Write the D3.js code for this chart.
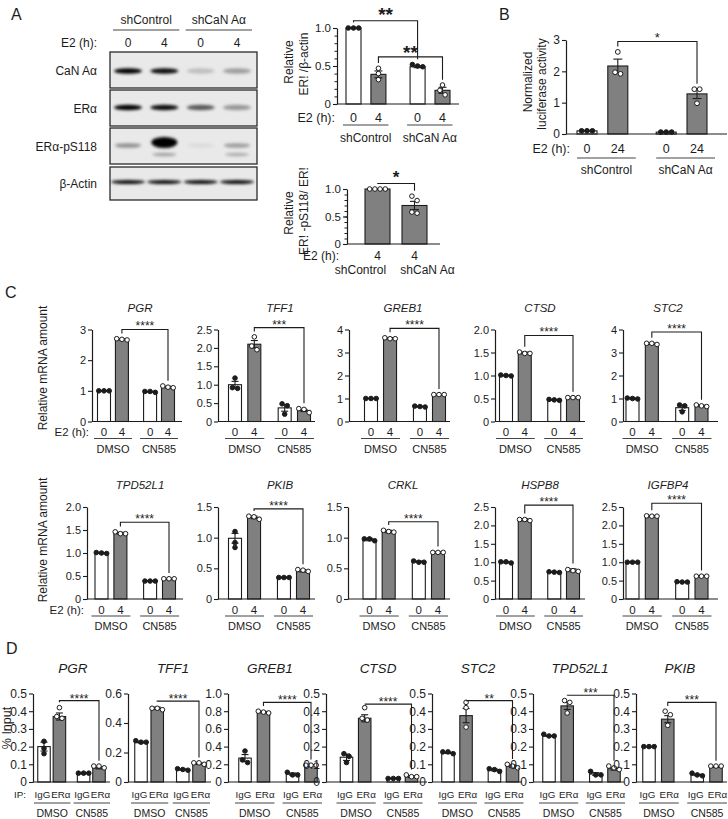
<!DOCTYPE html>
<html><head><meta charset="utf-8">
<script src="https://cdn.jsdelivr.net/npm/d3@7"></script>
<style>body{margin:0;background:#fff}svg{display:block}</style>
</head><body>
<script>
// ================= DATA =================
// Panel A – western blot
const blotGroups = ["shControl", "shCaN Aα"];
const blotLanes = ["0", "4", "0", "4"];
const blotRows = ["CaN Aα", "ERα", "ERα-pS118", "β-Actin"];
const blotIntensity = [
  [1.0, 0.95, 0.18, 0.32],
  [1.0, 0.95, 0.62, 0.35],
  [0.38, 1.0, 0.06, 0.32],
  [0.95, 0.95, 0.95, 0.95]
];
const blotSecondary = [0, 0.3, 0, 0.25]; // lower band, ERα-pS118 row

// Panel A – ERα / β-actin
const aErLabels = ["0", "4", "0", "4"];
const aErMeans = [1.0, 0.39, 0.49, 0.18];
const aErErrs = [0.005, 0.045, 0.012, 0.04];
const aErPoints = [[1, 1, 1], [0.47, 0.40, 0.32], [0.52, 0.49, 0.50], [0.25, 0.18, 0.12]];
// Panel A – ERα-pS118 / ERα
const aPsLabels = ["4", "4"];
const aPsMeans = [1.0, 0.70];
const aPsErrs = [0.003, 0.075];
const aPsPoints = [[1, 1, 1, 1], [0.87, 0.79, 0.58, 0.56]];

// Panel B – luciferase
const bLabels = ["0", "24", "0", "24"];
const bMeans = [0.10, 2.17, 0.06, 1.28];
const bErrs = [0.01, 0.22, 0.01, 0.15];
const bPoints = [[0.1, 0.1, 0.1], [1.92, 2.62, 1.97], [0.06, 0.06, 0.06], [1.43, 0.98, 1.43]];

// Panel C – qPCR
const cGenes = ["PGR", "TFF1", "GREB1", "CTSD", "STC2", "TPD52L1", "PKIB", "CRKL", "HSPB8", "IGFBP4"];
const cTimeLabels = ["0", "4", "0", "4"];
const cTreatments = ["DMSO", "CN585"];
const cMax = [3, 2.5, 4, 2, 4, 2, 1.5, 1.5, 2.5, 2.5];
const cTickStep = [1, 0.5, 1, 0.5, 1, 0.5, 0.5, 0.5, 0.5, 0.5];
const cMeans = [
  [1.0, 2.68, 0.97, 1.12],
  [1.0, 2.10, 0.37, 0.30],
  [1.0, 3.62, 0.65, 1.17],
  [1.0, 1.49, 0.47, 0.52],
  [1.0, 3.38, 0.60, 0.68],
  [1.0, 1.43, 0.39, 0.44],
  [0.99, 1.33, 0.35, 0.46],
  [0.97, 1.10, 0.61, 0.76],
  [1.0, 2.15, 0.73, 0.78],
  [1.0, 2.25, 0.46, 0.62]
];
const cErrs = [
  [0.01, 0.02, 0.01, 0.03],
  [0.09, 0.10, 0.09, 0.03],
  [0.01, 0.03, 0.02, 0.01],
  [0.01, 0.02, 0.01, 0.01],
  [0.02, 0.03, 0.12, 0.03],
  [0.01, 0.02, 0.01, 0.01],
  [0.08, 0.02, 0.01, 0.02],
  [0.02, 0.02, 0.01, 0.01],
  [0.02, 0.03, 0.01, 0.04],
  [0.01, 0.02, 0.01, 0.01]
];
const cPoints = [
  [[1, 1, 1], [2.66, 2.68, 2.70], [0.95, 0.98, 0.98], [1.16, 1.10, 1.12]],
  [[0.90, 1.18, 0.92], [2.30, 1.95, 2.05], [0.48, 0.20, 0.43], [0.33, 0.24, 0.35]],
  [[1, 1, 1], [3.60, 3.64, 3.60], [0.63, 0.67, 0.65], [1.17, 1.17, 1.17]],
  [[0.99, 1.0, 1.01], [1.48, 1.51, 1.48], [0.46, 0.48, 0.47], [0.52, 0.52, 0.52]],
  [[1, 1.02, 0.98], [3.35, 3.40, 3.40], [0.72, 0.42, 0.68], [0.65, 0.72, 0.68]],
  [[1, 1.01, 0.99], [1.42, 1.46, 1.42], [0.39, 0.39, 0.39], [0.44, 0.44, 0.44]],
  [[0.92, 1.10, 0.84], [1.35, 1.30, 1.34], [0.35, 0.35, 0.35], [0.48, 0.45, 0.47]],
  [[0.95, 0.98, 0.98], [1.09, 1.12, 1.10], [0.60, 0.62, 0.60], [0.76, 0.76, 0.76]],
  [[0.98, 1.01, 1.01], [2.13, 2.16, 2.16], [0.72, 0.74, 0.73], [0.80, 0.75, 0.77]],
  [[1, 1, 1], [2.25, 2.25, 2.26], [0.46, 0.47, 0.46], [0.62, 0.62, 0.62]]
];
const cSigLabels = ["****", "***", "****", "****", "****", "****", "****", "****", "****", "****"];
const cSigLevels = [3.0, 2.55, 4.05, 1.87, 3.89, 1.67, 1.47, 1.26, 2.55, 2.6];

// Panel D – ChIP
const dGenes = ["PGR", "TFF1", "GREB1", "CTSD", "STC2", "TPD52L1", "PKIB"];
const dIpLabels = ["IgG", "ERα", "IgG", "ERα"];
const dTreatments = ["DMSO", "CN585"];
const dMax = [0.5, 0.6, 1.0, 0.5, 0.5, 0.5, 0.5];
const dTickStep = [0.1, 0.2, 0.2, 0.1, 0.1, 0.1, 0.1];
const dMeans = [
  [0.20, 0.37, 0.05, 0.08],
  [0.27, 0.50, 0.085, 0.125],
  [0.27, 0.79, 0.09, 0.19],
  [0.14, 0.36, 0.02, 0.03],
  [0.165, 0.375, 0.068, 0.09],
  [0.26, 0.43, 0.045, 0.075],
  [0.20, 0.355, 0.04, 0.085]
];
const dErrs = [
  [0.025, 0.02, 0.003, 0.006],
  [0.006, 0.008, 0.004, 0.006],
  [0.04, 0.008, 0.012, 0.003],
  [0.018, 0.02, 0.002, 0.005],
  [0.004, 0.04, 0.005, 0.007],
  [0.003, 0.02, 0.008, 0.008],
  [0.002, 0.02, 0.004, 0.002]
];
const dPoints = [
  [[0.23, 0.19, 0.16], [0.42, 0.36, 0.37], [0.05, 0.05, 0.05], [0.09, 0.08, 0.09]],
  [[0.27, 0.28, 0.27], [0.50, 0.49, 0.50], [0.08, 0.09, 0.085], [0.13, 0.12, 0.13]],
  [[0.35, 0.22, 0.25], [0.78, 0.79, 0.80], [0.11, 0.08, 0.08], [0.19, 0.19, 0.19]],
  [[0.16, 0.11, 0.145], [0.42, 0.36, 0.35], [0.02, 0.02, 0.02], [0.03, 0.04, 0.03]],
  [[0.16, 0.17, 0.17], [0.45, 0.42, 0.31], [0.07, 0.075, 0.06], [0.08, 0.10, 0.09]],
  [[0.26, 0.27, 0.26], [0.45, 0.46, 0.39], [0.04, 0.06, 0.04], [0.07, 0.09, 0.08]],
  [[0.20, 0.20, 0.20], [0.40, 0.38, 0.32], [0.04, 0.05, 0.035], [0.09, 0.09, 0.09]]
];
const dSigLabels = ["****", "****", "****", "****", "**", "***", "***"];
const dSigLevels = [0.46, 0.548, 0.9, 0.44, 0.46, 0.49, 0.45];

// ================= LAYOUT / STYLE =================
const F = "Arial, 'Liberation Sans', Helvetica, sans-serif";
const INK = "#1c1c1c";
const GREY = "#808080";
const W = 728, H = 819;

const svg = d3.select("body").append("svg").attr("width", W).attr("height", H)
  .attr("font-family", F);

const defs = svg.append("defs");
defs.append("filter").attr("id", "blur").attr("x", "-30%").attr("y", "-100%").attr("width", "160%").attr("height", "300%")
  .append("feGaussianBlur").attr("stdDeviation", 1.4);

function txt(g, x, y, s, o = {}) {
  return g.append("text").attr("x", x).attr("y", y).text(s)
    .attr("font-size", o.fs || 11).attr("text-anchor", o.anchor || "middle")
    .attr("fill", INK).attr("font-style", o.italic ? "italic" : null)
    .attr("font-weight", o.bold ? "bold" : null)
    .attr("transform", o.rotate ? `rotate(-90,${x},${y})` : null);
}

function fmtDec(v) { return v === 0 ? "0" : d3.format(".1f")(v); }
function fmtInt(v) { return d3.format("d")(v); }

// symmetric scatter of replicate points (clusters of overlapping points are spread sideways)
function spread(vals, y, r) {
  const items = vals.map((v, i) => ({ i, py: y(v) })).sort((a, b) => a.py - b.py);
  const clusters = [];
  items.forEach(p => {
    const last = clusters[clusters.length - 1];
    if (last && Math.abs(p.py - last[last.length - 1].py) < 2 * r) last.push(p); else clusters.push([p]);
  });
  const out = [];
  const d = 2 * r + 0.6;
  clusters.forEach(cl => cl.forEach((p, j) => { out[p.i] = { dx: (j - (cl.length - 1) / 2) * d, py: p.py }; }));
  return out;
}

function barChart(c) {
  const g = svg.append("g");
  const y = d3.scaleLinear().domain([0, c.max]).range([c.yBot, c.yTop]);
  const x = d3.scaleLinear().domain([0, 1]).range([c.c0, c.c3]);
  const n = c.means.length;
  const slots = n === 2 ? [0, 1] : [0, 0.28, 0.72, 1];
  const xs = slots.map(s => x(s));
  const r = c.r || 2.3;

  // bars
  g.selectAll("rect.bar").data(c.means).join("rect").attr("class", "bar")
    .attr("x", (d, i) => xs[i] - c.barW / 2).attr("y", d => y(d))
    .attr("width", c.barW).attr("height", d => c.yBot - y(d))
    .attr("fill", (d, i) => c.grey[i] ? GREY : "#fff")
    .attr("stroke", INK).attr("stroke-width", 1.1);

  // error bars
  const cw = c.capW || 7;
  c.means.forEach((m, i) => {
    const e = c.errs[i];
    const eg = g.append("g").attr("stroke", INK).attr("stroke-width", 1.1);
    eg.append("line").attr("x1", xs[i]).attr("x2", xs[i]).attr("y1", y(Math.max(0, m - e))).attr("y2", y(m + e));
    eg.append("line").attr("x1", xs[i] - cw / 2).attr("x2", xs[i] + cw / 2).attr("y1", y(m + e)).attr("y2", y(m + e));
    eg.append("line").attr("x1", xs[i] - cw / 2).attr("x2", xs[i] + cw / 2).attr("y1", y(Math.max(0, m - e))).attr("y2", y(Math.max(0, m - e)));
  });

  // replicate points
  c.points.forEach((pts, i) => {
    const pos = spread(pts, y, r);
    g.selectAll(null).data(pos).join("circle")
      .attr("cx", p => xs[i] + p.dx).attr("cy", p => p.py).attr("r", r)
      .attr("fill", c.grey[i] ? "#fff" : INK).attr("stroke", INK).attr("stroke-width", 1);
  });

  // y axis
  const axis = d3.axisLeft(y).tickValues(c.ticks).tickFormat(c.fmt)
    .tickSizeInner(4).tickSizeOuter(0).tickPadding(2);
  const ag = g.append("g").attr("transform", `translate(${c.axisX},0)`).call(axis);
  ag.attr("font-family", F);
  ag.select(".domain").attr("stroke", INK).attr("stroke-width", 1.2);
  ag.selectAll(".tick line").attr("stroke", INK).attr("stroke-width", 1.1);
  ag.selectAll(".tick text").attr("fill", INK).attr("font-size", c.tickFs);
  if (c.minor) {
    const mg = g.append("g").attr("transform", `translate(${c.axisX},0)`)
      .call(d3.axisLeft(y).tickValues(c.minor).tickFormat("").tickSizeInner(2.5).tickSizeOuter(0));
    mg.select(".domain").remove();
    mg.selectAll(".tick line").attr("stroke", INK).attr("stroke-width", 1);
  }
  // x baseline
  g.append("line").attr("x1", c.axisX).attr("x2", c.end).attr("y1", c.yBot).attr("y2", c.yBot)
    .attr("stroke", INK).attr("stroke-width", 1.2);

  // significance brackets
  (c.sigs || []).forEach(s => {
    const top = i => y(Math.max(d3.max(c.points[i]), c.means[i] + c.errs[i])) - r - 3;
    const by = y(s.at);
    g.append("path")
      .attr("d", `M${xs[s.a]},${Math.max(top(s.a), by)}V${by}H${xs[s.b]}V${Math.max(top(s.b), by)}`)
      .attr("fill", "none").attr("stroke", INK).attr("stroke-width", 1.1);
    const cy = by - s.gap;
    txt(g, (xs[s.a] + xs[s.b]) / 2, cy + 0.58 * s.fs, s.label, { fs: s.fs, bold: s.bold });
  });

  // category labels
  c.xLabels.forEach((l, i) => txt(g, xs[i] + (c.xlShift ? c.xlShift[i] : 0), c.yBot + c.xlDy, l, { fs: c.xlFs }));
  if (c.prefix) txt(g, c.prefixX, c.yBot + c.xlDy, c.prefix, { fs: c.xlFs, anchor: "end" });
  c.groups.forEach((gl, k) => {
    const i0 = c.groupBars[k][0], i1 = c.groupBars[k][c.groupBars[k].length - 1];
    const x0 = xs[i0] - c.ulPadL, x1 = xs[i1] + c.ulPadR;
    if (c.underline) g.append("line").attr("x1", x0).attr("x2", x1)
      .attr("y1", c.yBot + c.ulDy).attr("y2", c.yBot + c.ulDy)
      .attr("stroke", "#444").attr("stroke-width", 1.2);
    txt(g, (x0 + x1) / 2 + (c.gShift ? c.gShift[k] : 0), c.yBot + c.gDy, gl, { fs: c.gFs });
  });
  if (c.title) txt(g, c.titleX, c.titleY, c.title, { fs: c.titleFs, italic: true });
  return { x, y, xs };
}

// ---------- panel letters ----------
txt(svg, 11, 20, "A", { fs: 16, anchor: "start" });
txt(svg, 499, 20, "B", { fs: 16, anchor: "start" });
txt(svg, 5, 298, "C", { fs: 16, anchor: "start" });
txt(svg, 6, 654, "D", { fs: 16, anchor: "start" });

// ---------- Panel A blot ----------
(function () {
  const g = svg.append("g");
  const boxes = [[52, 88], [90, 126], [128, 164], [167, 200]];
  const bx0 = 110, bx1 = 257;
  const lane = d3.scalePoint().domain(d3.range(4)).range([128, 237]);
  const bandY = [71, 107.5, 145.5, 182];
  const bandRy = [2.8, 2.8, 2.3, 2.0];
  const bandRx = [14, 14, 13, 17];
  boxes.forEach((b, r) => {
    g.append("rect").attr("x", bx0).attr("y", b[0]).attr("width", bx1 - bx0).attr("height", b[1] - b[0])
      .attr("fill", "#e9e9e9").attr("stroke", "#2a2a2a").attr("stroke-width", 1.3);
    const bands = g.append("g").attr("filter", "url(#blur)");
    blotIntensity[r].forEach((v, l) => {
      const big = r === 2 && v > 0.9;
      bands.append("ellipse").attr("cx", lane(l)).attr("cy", big ? bandY[r] - 3 : bandY[r])
        .attr("rx", bandRx[r]).attr("ry", big ? 5.5 : bandRy[r])
        .attr("fill", "#000").attr("opacity", v);
    });
    if (r === 2) blotSecondary.forEach((v, l) => {
      if (v > 0) bands.append("ellipse").attr("cx", lane(l)).attr("cy", bandY[r] + 9)
        .attr("rx", 12).attr("ry", 1.8).attr("fill", "#000").attr("opacity", v);
    });
    txt(g, 97, (b[0] + b[1]) / 2 + 4.5, blotRows[r], { fs: 12, anchor: "end" });
  });
  blotLanes.forEach((l, i) => txt(g, lane(i), 47, l, { fs: 12 }));
  txt(g, 97, 47, "E2 (h):", { fs: 12, anchor: "end" });
  [[0, 1], [2, 3]].forEach((pair, k) => {
    const x0 = lane(pair[0]) - 15, x1 = lane(pair[1]) + 15;
    g.append("line").attr("x1", x0).attr("x2", x1).attr("y1", 30).attr("y2", 30)
      .attr("stroke", "#444").attr("stroke-width", 1.2);
    txt(g, (x0 + x1) / 2, 24, blotGroups[k], { fs: 12 });
  });
})();

// ---------- Panel A quantification 1 ----------
barChart({
  axisX: 337, end: 459, c0: 353.5, c3: 442.5, yTop: 28, yBot: 104, max: 1.0,
  ticks: [0, 0.5, 1.0], fmt: fmtDec, minor: d3.range(1, 10).map(v => v / 10), tickFs: 11.5,
  means: aErMeans, errs: aErErrs, points: aErPoints, grey: [false, true, false, true], barW: 15, capW: 8,
  sigs: [
    { a: 0, b: 2, at: 1.095, label: "**", fs: 19, gap: 11, bold: true },
    { a: 1, b: 3, at: 0.62, label: "**", fs: 19, gap: 9, bold: true }
  ],
  xLabels: aErLabels, xlDy: 18, xlFs: 12.5, prefix: "E2 (h):", prefixX: 335,
  groups: blotGroups, groupBars: [[0, 1], [2, 3]], underline: true, ulDy: 21, ulPadL: 10.5, ulPadR: 10,
  gDy: 38, gFs: 12
});
txt(svg, 293, 62, "Relative", { fs: 12, rotate: true });
txt(svg, 308, 64, "ER! /β-actin", { fs: 12, rotate: true });

// ---------- Panel A quantification 2 ----------
barChart({
  axisX: 347, end: 440, c0: 377.5, c3: 414.5, yTop: 189, yBot: 244, max: 1.0,
  ticks: [0, 0.5, 1.0], fmt: fmtDec, minor: d3.range(1, 10).map(v => v / 10), tickFs: 11.5,
  means: aPsMeans, errs: aPsErrs, points: aPsPoints, grey: [true, true], barW: 25, capW: 9,
  sigs: [{ a: 0, b: 1, at: 1.1, label: "*", fs: 17, gap: 10, bold: true }],
  xLabels: aPsLabels, xlDy: 15.5, xlFs: 12, prefix: "E2 (h):", prefixX: 339,
  groups: blotGroups, groupBars: [[0], [1]], underline: false, ulPadL: 0, ulPadR: 0,
  gShift: [-17, 13], gDy: 30, gFs: 12
});
txt(svg, 293, 213, "Relative", { fs: 12, rotate: true });
txt(svg, 308, 211, "ER! -pS118/ ER!", { fs: 12, rotate: true });

// ---------- Panel B ----------
barChart({
  axisX: 566, end: 727, c0: 587, c3: 697, yTop: 40, yBot: 134, max: 3,
  ticks: [0, 1, 2, 3], fmt: fmtInt, tickFs: 12,
  means: bMeans, errs: bErrs, points: bPoints, grey: [false, true, false, true], barW: 20, capW: 9, r: 2.4,
  sigs: [{ a: 1, b: 3, at: 2.95, label: "*", fs: 13, gap: 7 }],
  xLabels: bLabels, xlDy: 19, xlFs: 12.5, prefix: "E2 (h):", prefixX: 570,
  groups: blotGroups, groupBars: [[0, 1], [2, 3]], underline: true, ulDy: 24, ulPadL: 10, ulPadR: 18,
  gDy: 40, gFs: 12
});
txt(svg, 532, 82, "Normalized", { fs: 12, rotate: true });
txt(svg, 546, 84, "luciferase activity", { fs: 12, rotate: true });

// ---------- Panel C ----------
const cRows = [{ yTop: 329.5, yBot: 421.5, titleY: 312 }, { yTop: 507, yBot: 599, titleY: 489 }];
const cLayout = [
  { axisX: 92, c0: 104, c3: 168, end: 182, tx: 140 },
  { axisX: 218, c0: 235, c3: 304, end: 315, tx: 280 },
  { axisX: 349, c0: 371, c3: 439, end: 450, tx: 403 },
  { axisX: 495, c0: 506, c3: 573, end: 585, tx: 540 },
  { axisX: 623, c0: 632.5, c3: 701.5, end: 718, tx: 668 },
  { axisX: 87, c0: 101.5, c3: 169, end: 183, tx: 140 },
  { axisX: 218, c0: 235, c3: 303, end: 315, tx: 280 },
  { axisX: 348, c0: 369.5, c3: 438, end: 450, tx: 403 },
  { axisX: 495, c0: 506, c3: 573, end: 585, tx: 540 },
  { axisX: 623, c0: 632.5, c3: 701.5, end: 718, tx: 668 }
];
cGenes.forEach((gene, k) => {
  const row = cRows[Math.floor(k / 5)];
  const L = cLayout[k];
  const step = cTickStep[k];
  const ticks = d3.range(0, cMax[k] + step / 2, step);
  barChart({
    axisX: L.axisX, end: L.end, c0: L.c0, c3: L.c3, yTop: row.yTop, yBot: row.yBot, max: cMax[k],
    ticks, fmt: step >= 1 ? fmtInt : fmtDec, tickFs: 11,
    means: cMeans[k], errs: cErrs[k], points: cPoints[k], grey: [false, true, false, true], barW: 13, capW: 7,
    sigs: [{ a: 1, b: 3, at: cSigLevels[k], label: cSigLabels[k], fs: 12, gap: 6 }],
    xLabels: cTimeLabels, xlDy: 14.5, xlFs: 11.5,
    prefix: k % 5 === 0 ? "E2 (h):" : null, prefixX: L.axisX - 3,
    groups: cTreatments, groupBars: [[0, 1], [2, 3]], underline: true, ulDy: 17, ulPadL: 10, ulPadR: 10,
    gDy: 31, gFs: 11,
    title: gene, titleX: L.tx, titleY: row.titleY, titleFs: 11.5
  });
});
txt(svg, 47, 368, "Relative mRNA amount", { fs: 12, rotate: true });
txt(svg, 47, 540, "Relative mRNA amount", { fs: 12, rotate: true });

// ---------- Panel D ----------
const dRow = { yTop: 693.5, yBot: 782, titleY: 673 };
const dLayout = [
  { axisX: 33, c0: 44, c3: 99, end: 110, tx: 73 },
  { axisX: 128, c0: 141, c3: 199, end: 211, tx: 173 },
  { axisX: 228, c0: 245, c3: 311, end: 320, tx: 270 },
  { axisX: 326, c0: 346.5, c3: 411.5, end: 427, tx: 378 },
  { axisX: 432, c0: 448, c3: 512.5, end: 522, tx: 478 },
  { axisX: 533, c0: 549, c3: 614, end: 624, tx: 580 },
  { axisX: 636, c0: 649, c3: 716, end: 727, tx: 680 }
];
dGenes.forEach((gene, k) => {
  const L = dLayout[k];
  const step = dTickStep[k];
  const ticks = d3.range(0, dMax[k] + step / 2, step).map(v => Math.round(v * 10) / 10);
  barChart({
    axisX: L.axisX, end: L.end, c0: L.c0, c3: L.c3, yTop: dRow.yTop, yBot: dRow.yBot, max: dMax[k],
    ticks, fmt: fmtDec, tickFs: 12,
    means: dMeans[k], errs: dErrs[k], points: dPoints[k], grey: [false, true, false, true], barW: 12.5, capW: 7,
    sigs: [{ a: 1, b: 3, at: dSigLevels[k], label: dSigLabels[k], fs: 12, gap: 5 }],
    xLabels: dIpLabels, xlShift: [-1.5, 1.5, -1.5, 1.5], xlDy: 16, xlFs: 9.8,
    prefix: k === 0 ? "IP:" : null, prefixX: 26,
    groups: dTreatments, groupBars: [[0, 1], [2, 3]], underline: true, ulDy: 21, ulPadL: 10, ulPadR: 11,
    gDy: 35, gFs: 10.5,
    title: gene, titleX: L.tx, titleY: dRow.titleY, titleFs: 13.5
  });
});
txt(svg, 11, 728, "% Input", { fs: 12.5, rotate: true });
</script>
</body></html>
